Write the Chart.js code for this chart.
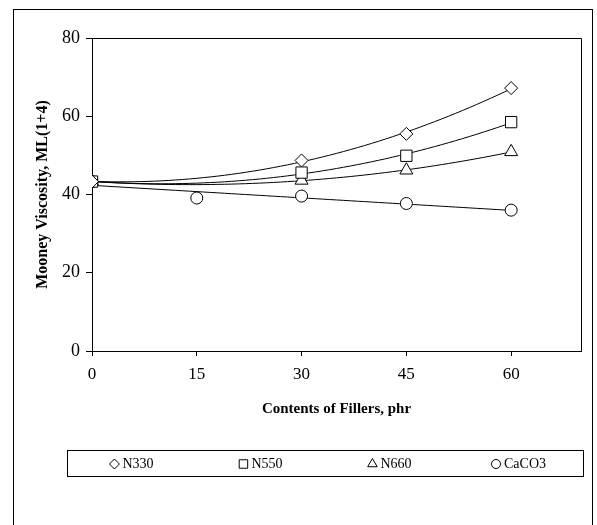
<!DOCTYPE html>
<html>
<head>
<meta charset="utf-8">
<script src="https://cdn.jsdelivr.net/npm/chart.js@4.4.0/dist/chart.umd.min.js"></script>
<style>
    html, body { margin: 0; padding: 0; background: #fff; overflow: hidden; }
    #frame { position: absolute; left: 13px; top: 9px; width: 578px; height: 560px; border: 1px solid #000; }
    #wrap { position: absolute; left: 0; top: 0; width: 597px; height: 525px; }
</style>
</head>
<body>
<div id="frame"></div>
<div id="wrap"><canvas id="mooney"></canvas></div>
<script>
// filler loading (phr) and Mooney viscosity ML(1+4) for each filler
const FILLER_PHR = [0, 15, 30, 45, 60];
const N330 = [43.3, null, 48.7, 55.5, 67.2];
const N550 = [43.3, null, 45.6, 49.9, 58.5];
const N660 = [43.3, null, 43.6, 46.2, 50.9];
const CACO3 = [43.3, 39.1, 39.6, 37.7, 36.0];

const SERIES_NAMES = ['N330', 'N550', 'N660', 'CaCO3'];
const X_TICKS = [0, 15, 30, 45, 60];
const Y_TICKS = [0, 20, 40, 60, 80];

const FONT = '"Liberation Serif", "Times New Roman", serif';

// points that exist for a series
function toPoints(ys) {
    return FILLER_PHR.map((x, i) => ({ x: x, y: ys[i] })).filter(p => p.y !== null);
}

// least squares polynomial trendline (as the original spreadsheet drew it)
function polyFit(pts, order) {
    const n = order + 1;
    const m = [];
    for (let r = 0; r < n; r++) {
        m.push([]);
        for (let c = 0; c < n; c++) {
            m[r].push(pts.reduce((s, p) => s + Math.pow(p.x, r + c), 0));
        }
        m[r].push(pts.reduce((s, p) => s + p.y * Math.pow(p.x, r), 0));
    }
    for (let i = 0; i < n; i++) {
        for (let k = i + 1; k < n; k++) {
            const f = m[k][i] / m[i][i];
            for (let j = i; j <= n; j++) m[k][j] -= f * m[i][j];
        }
    }
    const coef = new Array(n).fill(0);
    for (let i = n - 1; i >= 0; i--) {
        let s = m[i][n];
        for (let j = i + 1; j < n; j++) s -= m[i][j] * coef[j];
        coef[i] = s / m[i][i];
    }
    return coef;
}

function trendLine(ys, order) {
    const pts = toPoints(ys);
    const coef = polyFit(pts, order);
    const out = [];
    for (let x = 0; x <= 60; x += 1) {
        out.push({ x: x, y: coef.reduce((s, c, k) => s + c * Math.pow(x, k), 0) });
    }
    return out;
}

const SERIES = [N330, N550, N660, CACO3];
const STYLES = ['rectRot', 'rect', 'triangle', 'circle'];
const RADII = [6.5, 8, 7.5, 6];
const LEGEND_R = [5, 6, 5.5, 4.5];
const TREND_ORDER = [2, 2, 2, 1];

const markerSets = SERIES.map((ys, i) => ({
    label: SERIES_NAMES[i],
    data: toPoints(ys),
    pointStyle: STYLES[i],
    pointRadius: RADII[i],
    backgroundColor: '#fff',
    borderColor: '#000',
    borderWidth: 1,
    showLine: false,
    order: 0
}));

const trendSets = SERIES.map((ys, i) => ({
    label: SERIES_NAMES[i] + ' trend',
    data: trendLine(ys, TREND_ORDER[i]),
    showLine: true,
    pointRadius: 0,
    borderColor: '#000',
    borderWidth: 1,
    tension: 0,
    order: 1
}));

const plotFrame = {
    id: 'plotFrame',
    afterDraw(chart) {
        const { ctx, chartArea: a } = chart;
        const l = Math.round(a.left) + 0.5, r = Math.round(a.right) + 0.5;
        const t = Math.round(a.top) + 0.5, b = Math.round(a.bottom) + 0.5;
        ctx.save();
        ctx.strokeStyle = '#000';
        ctx.lineWidth = 1;
        ctx.beginPath();
        ctx.moveTo(l, t);
        ctx.lineTo(r, t);
        ctx.lineTo(r, b);
        ctx.stroke();

        // boxed legend under the axis title
        const left = Math.round(a.left) - 25, right = Math.round(a.right) + 2;
        const top = Math.round(a.bottom) + 99, h = 26;
        ctx.strokeRect(left + 0.5, top + 0.5, right - left, h);
        ctx.font = '14px ' + FONT;
        ctx.textBaseline = 'middle';
        const col = (right - left) / SERIES_NAMES.length;
        const cy = top + h / 2 + 1;
        SERIES_NAMES.forEach((name, i) => {
            const w = 13 + ctx.measureText(name).width;
            const x0 = left + col * (i + 0.5) - w / 2;
            ctx.fillStyle = '#fff';
            ctx.strokeStyle = '#000';
            Chart.helpers.drawPoint(ctx, { pointStyle: STYLES[i], radius: LEGEND_R[i], borderWidth: 1, rotation: 0 }, x0 + 5, cy);
            ctx.fillStyle = '#000';
            ctx.fillText(name, x0 + 13, cy);
        });
        ctx.restore();
    }
};

new Chart(document.getElementById('mooney'), {
    type: 'scatter',
    data: { datasets: markerSets.concat(trendSets) },
    options: {
        responsive: true,
        maintainAspectRatio: false,
        animation: false,
        layout: { padding: { top: 38, right: 16, left: 0, bottom: 94 } },
        plugins: {
            legend: { display: false },
            tooltip: { enabled: false }
        },
        scales: {
            x: {
                type: 'linear',
                min: 0,
                max: 70,
                afterBuildTicks: s => { s.ticks = X_TICKS.map(v => ({ value: v })); },
                afterFit: s => { s.height = 80; },
                grid: { drawOnChartArea: false, tickLength: 5, color: '#000' },
                border: { color: '#000', width: 1 },
                ticks: { font: { family: FONT, size: 17 }, color: '#000', padding: 8, maxRotation: 0 },
                title: {
                    display: true,
                    text: 'Contents of Fillers, phr',
                    font: { family: FONT, size: 15, weight: 'bold' },
                    color: '#000',
                    padding: { top: 0, bottom: 13 }
                }
            },
            y: {
                min: 0,
                max: 80,
                afterBuildTicks: s => { s.ticks = Y_TICKS.map(v => ({ value: v })); },
                afterFit: s => { s.width = 92; },
                grid: { drawOnChartArea: false, tickLength: 6, color: '#000' },
                border: { color: '#000', width: 1 },
                ticks: { font: { family: FONT, size: 18 }, color: '#000', padding: 6 },
                title: {
                    display: true,
                    text: 'Mooney Viscosity, ML(1+4)',
                    font: { family: FONT, size: 16, weight: 'bold' },
                    color: '#000',
                    padding: { top: 33, bottom: 0 }
                }
            }
        }
    },
    plugins: [plotFrame]
});
</script>
</body>
</html>
